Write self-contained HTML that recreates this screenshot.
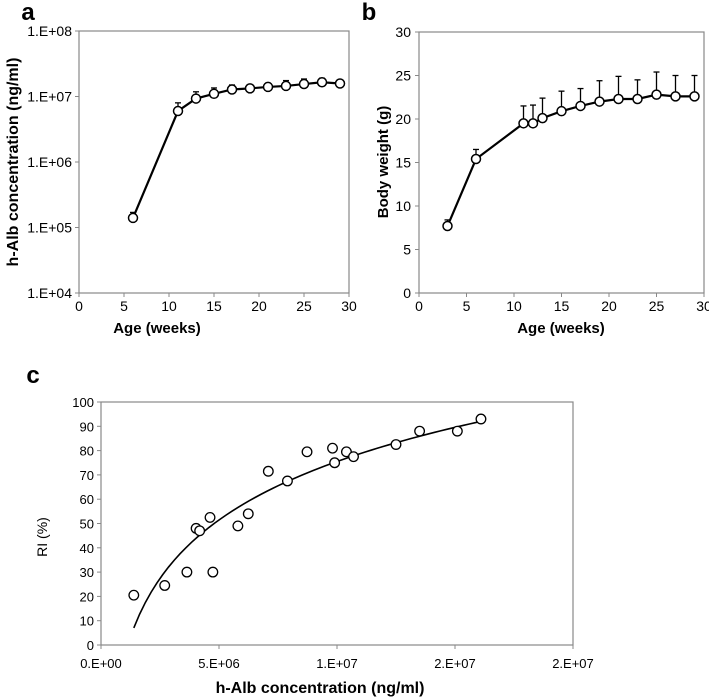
<!DOCTYPE html>
<html><head><meta charset="utf-8">
<style>
body{margin:0;background:#fff;}
svg{display:block;font-family:"Liberation Sans",Arial,sans-serif;}
</style></head>
<body>
<svg id="fig" width="709" height="699" viewBox="0 0 709 699"></svg>
<script>
// Panel a data
const aWeeks=[6,11,13,15,17,19,21,23,25,27,29];
const aAlb=[1.4e5,6e6,9.3e6,1.1e7,1.28e7,1.33e7,1.4e7,1.45e7,1.55e7,1.65e7,1.58e7];
const aAlbErr=[1.7e5,8e6,1.18e7,1.35e7,1.5e7,1.5e7,1.6e7,1.75e7,1.85e7,1.9e7,1.65e7];
const aYTicks=["1.E+04","1.E+05","1.E+06","1.E+07","1.E+08"];
const xTicksAge=[0,5,10,15,20,25,30];
// Panel b data
const bWeeks=[3,6,11,12,13,15,17,19,21,23,25,27,29];
const bWeight=[7.7,15.4,19.5,19.5,20.1,20.9,21.5,22.0,22.3,22.3,22.8,22.6,22.6];
const bWeightErr=[8.4,16.5,21.5,21.6,22.4,23.2,23.5,24.4,24.9,24.5,25.4,25.0,25.0];
const bYTicks=[0,5,10,15,20,25,30];
// Panel c data
const cAlb=[1.39e6,2.7e6,3.64e6,4.03e6,4.18e6,4.62e6,4.74e6,5.8e6,6.24e6,7.09e6,7.9e6,8.73e6,9.81e6,9.9e6,1.04e7,1.07e7,1.25e7,1.35e7,1.51e7,1.61e7];
const cRI=[20.5,24.5,30,48,47,52.5,30,49,54,71.5,67.5,79.5,81,75,79.5,77.5,82.5,88,88,93];
const cFit=[34.7,-483.8]; // RI = a*ln(x)+b
const cXTickVals=[0,5e6,1e7,1.5e7,2e7];
const cXTickLabels=["0.E+00","5.E+06","1.E+07","2.E+07","2.E+07"];
const cYTicks=[0,10,20,30,40,50,60,70,80,90,100];

const svg=document.getElementById('fig');
const NS='http://www.w3.org/2000/svg';
function mk(tag,attrs,parent){const e=document.createElementNS(NS,tag);for(const k in attrs)e.setAttribute(k,attrs[k]);(parent||svg).appendChild(e);return e;}
function txt(s,x,y,size,anchor,weight,parent){const t=mk('text',{x:x,y:y,'font-size':size,'text-anchor':anchor||'middle','font-weight':weight||'normal',fill:'#000'},parent);t.textContent=s;return t;}

// ---------- Panel a ----------
const ga=mk('g',{});
const aL=79,aR=349,aT=31,aB=293;
const axA=x=>aL+(x/30)*(aR-aL);
const ayA=v=>aB-(Math.log10(v)-4)/4*(aB-aT);
let r=mk('rect',{x:aL,y:aT,width:aR-aL,height:aB-aT,fill:'none',stroke:'#888','stroke-width':1.2},ga);
aYTicks.forEach((s,i)=>{const y=aB-i*(aB-aT)/4;mk('line',{x1:aL-4,x2:aL,y1:y,y2:y,stroke:'#888'},ga);const t=txt(s,aL-7,y+5,14,'end','normal',ga);});
xTicksAge.forEach(v=>{const x=axA(v);mk('line',{x1:x,x2:x,y1:aB,y2:aB+4,stroke:'#888'},ga);const t=txt(String(v),x,aB+18,14,'middle','normal',ga);});
aWeeks.forEach((w,i)=>{const x=axA(w);mk('line',{x1:x,x2:x,y1:ayA(aAlb[i]),y2:ayA(aAlbErr[i]),stroke:'#000','stroke-width':1.3},ga);mk('line',{x1:x-3,x2:x+3,y1:ayA(aAlbErr[i]),y2:ayA(aAlbErr[i]),stroke:'#000','stroke-width':1.3},ga);});
let pa=mk('polyline',{points:aWeeks.map((w,i)=>axA(w)+','+ayA(aAlb[i])).join(' '),fill:'none',stroke:'#000','stroke-width':2.2},ga);
aWeeks.forEach((w,i)=>{const c=mk('circle',{cx:axA(w),cy:ayA(aAlb[i]),r:4.5,fill:'#fff',stroke:'#000','stroke-width':1.5},ga);});
let t=txt('a',28,20,24,'middle','bold',ga);
t=txt('h-Alb concentration (ng/ml)',0,0,16,'middle','bold',ga);t.setAttribute('transform','translate(18,162) rotate(-90)');
t=txt('Age (weeks)',157,333,15,'middle','bold',ga);

// ---------- Panel b ----------
const gb=mk('g',{});
const bL=419,bR=704,bT=32,bB=293;
const axB=x=>bL+(x/30)*(bR-bL);
const ayB=v=>bB-(v/30)*(bB-bT);
r=mk('rect',{x:bL,y:bT,width:bR-bL,height:bB-bT,fill:'none',stroke:'#888','stroke-width':1.2},gb);
bYTicks.forEach(v=>{const y=ayB(v);mk('line',{x1:bL-4,x2:bL,y1:y,y2:y,stroke:'#888'},gb);const t=txt(String(v),bL-8,y+5,14,'end','normal',gb);});
xTicksAge.forEach(v=>{const x=axB(v);mk('line',{x1:x,x2:x,y1:bB,y2:bB+4,stroke:'#888'},gb);const t=txt(String(v),x,bB+18,14,'middle','normal',gb);});
bWeeks.forEach((w,i)=>{const x=axB(w);mk('line',{x1:x,x2:x,y1:ayB(bWeight[i]),y2:ayB(bWeightErr[i]),stroke:'#000','stroke-width':1.3},gb);mk('line',{x1:x-3,x2:x+3,y1:ayB(bWeightErr[i]),y2:ayB(bWeightErr[i]),stroke:'#000','stroke-width':1.3},gb);});
let pb=mk('polyline',{points:bWeeks.map((w,i)=>axB(w)+','+ayB(bWeight[i])).join(' '),fill:'none',stroke:'#000','stroke-width':2.2},gb);
bWeeks.forEach((w,i)=>{const c=mk('circle',{cx:axB(w),cy:ayB(bWeight[i]),r:4.5,fill:'#fff',stroke:'#000','stroke-width':1.5},gb);});
t=txt('b',369,20,24,'middle','bold',gb);
t=txt('Body weight (g)',0,0,15,'middle','bold',gb);t.setAttribute('transform','translate(388,162) rotate(-90)');
t=txt('Age (weeks)',561,333,15,'middle','bold',gb);

// ---------- Panel c ----------
const gc=mk('g',{});
const cL=101,cR=573,cT=402,cB=645;
const axC=x=>cL+(x/2e7)*(cR-cL);
const ayC=v=>cB-(v/100)*(cB-cT);
r=mk('rect',{x:cL,y:cT,width:cR-cL,height:cB-cT,fill:'none',stroke:'#888','stroke-width':1.2},gc);
cYTicks.forEach(v=>{const y=ayC(v);mk('line',{x1:cL-4,x2:cL,y1:y,y2:y,stroke:'#888'},gc);const t=txt(String(v),cL-7,y+5,13,'end','normal',gc);});
cXTickVals.forEach((v,i)=>{const x=axC(v);mk('line',{x1:x,x2:x,y1:cB,y2:cB+4,stroke:'#888'},gc);const t=txt(cXTickLabels[i],x,cB+23,13,'middle','normal',gc);});
const fitPts=[];const xmin=Math.min(...cAlb),xmax=Math.max(...cAlb);
for(let k=0;k<=60;k++){const x=xmin+(xmax-xmin)*k/60;fitPts.push(axC(x)+','+ayC(cFit[0]*Math.log(x)+cFit[1]));}
let pc=mk('polyline',{points:fitPts.join(' '),fill:'none',stroke:'#000','stroke-width':1.6},gc);
cAlb.forEach((x,i)=>{const c=mk('circle',{cx:axC(x),cy:ayC(cRI[i]),r:4.8,fill:'#fff',stroke:'#000','stroke-width':1.3},gc);});
t=txt('c',33,383,24,'middle','bold',gc);
t=txt('RI (%)',0,0,14,'middle','normal',gc);t.setAttribute('transform','translate(47,537) rotate(-90)');
t=txt('h-Alb concentration (ng/ml)',320,693,16,'middle','bold',gc);
</script>
</body></html>
